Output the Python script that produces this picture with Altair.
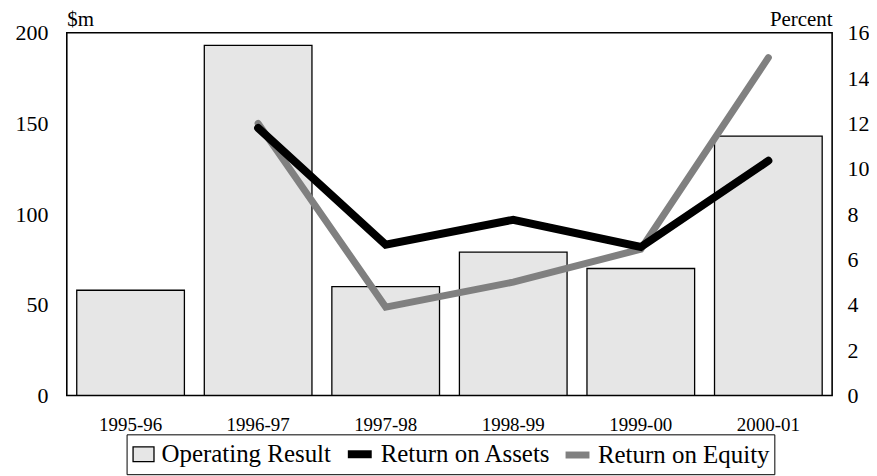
import altair as alt
import pandas as pd

years = ["1995-96", "1996-97", "1997-98", "1998-99", "1999-00", "2000-01"]
operating = [58, 193, 60, 79, 70, 143]
roa = [None, 11.8, 6.65, 7.75, 6.55, 10.35]
roe = [None, 12.0, 3.9, 5.0, 6.45, 14.9]

series_names = ["Operating Result", "Return on Assets", "Return on Equity"]
fill_colors = ["#e6e6e6", "transparent", "transparent"]
stroke_colors = ["#000000", "#000000", "#808080"]
stroke_widths = [1.3, 8, 7]
legend_shapes = ["M-0.875,-0.62H0.875V0.62H-0.875Z", "stroke", "stroke"]
left_ticks = [0, 50, 100, 150, 200]
right_ticks = [0, 2, 4, 6, 8, 10, 12, 14, 16]

FONT = "Liberation Serif"

bars_df = pd.DataFrame({"year": years, "value": operating, "series": series_names[0]})
lines_df = pd.DataFrame({
    "year": years * 2,
    "value": roa + roe,
    "series": [series_names[1]] * len(years) + [series_names[2]] * len(years),
}).dropna()


def legend():
    return alt.Legend(
        title=None,
        orient="none",
        legendX=60,
        legendY=403,
        direction="horizontal",
        labelFont=FONT,
        labelFontSize=25,
        labelColor="black",
        labelLimit=400,
        symbolSize=576,
        symbolOpacity=1,
        labelOffset=5,
        columnPadding=0,
        strokeColor="black",
        padding=4,
    )


fill_enc = alt.Fill("series:N", scale=alt.Scale(domain=series_names, range=fill_colors), legend=legend())
stroke_enc = alt.Stroke("series:N", scale=alt.Scale(domain=series_names, range=stroke_colors), legend=legend())
sw_enc = alt.StrokeWidth("series:N", scale=alt.Scale(type="ordinal", domain=series_names, range=stroke_widths), legend=legend())
shape_enc = alt.Shape("series:N", scale=alt.Scale(domain=series_names, range=legend_shapes), legend=legend())

x_enc = alt.X(
    "year:N",
    sort=years,
    scale=alt.Scale(paddingInner=0.156, paddingOuter=0.078),
    axis=alt.Axis(
        title=None, labelAngle=0, ticks=False, domain=False,
        labelFont=FONT, labelFontSize=19, labelColor="black", labelPadding=20,
    ),
)

bars = alt.Chart(bars_df).mark_bar().encode(
    x=x_enc,
    y=alt.Y(
        "value:Q",
        scale=alt.Scale(domain=[0, 200], nice=False),
        axis=alt.Axis(
            values=left_ticks, title="$m", titleAngle=0, titleAlign="left",
            titleX=0, titleY=-7, titleBaseline="alphabetic",
            titleFont=FONT, titleFontSize=21, titleFontWeight="normal", titleColor="black",
            labelFont=FONT, labelFontSize=22, labelColor="black", labelPadding=19,
            ticks=False, domain=False, grid=False,
        ),
    ),
    fill=fill_enc,
    stroke=stroke_enc,
    strokeWidth=sw_enc,
)

y_right_scale = alt.Scale(domain=[0, 16], nice=False)
y_right = alt.Y(
    "value:Q",
    scale=y_right_scale,
    axis=alt.Axis(
        orient="right", values=right_ticks, title="Percent", titleAngle=0,
        titleAlign="right", titleX=0, titleY=-7, titleBaseline="alphabetic",
        titleFont=FONT, titleFontSize=21, titleFontWeight="normal", titleColor="black",
        labelFont=FONT, labelFontSize=22, labelColor="black", labelPadding=15,
        ticks=False, domain=False, grid=False,
    ),
)

roe_line = alt.Chart(lines_df).transform_filter(
    alt.datum.series == series_names[2]
).mark_line(strokeCap="round").encode(
    x=x_enc, y=y_right, stroke=stroke_enc, strokeWidth=sw_enc
)

roa_line = alt.Chart(lines_df).transform_filter(
    alt.datum.series == series_names[1]
).mark_line(strokeCap="round").encode(
    x=x_enc, y=y_right, stroke=stroke_enc, strokeWidth=sw_enc
)

# empty point layer: only supplies the legend symbol shapes
shape_layer = alt.Chart(lines_df).transform_filter("false").mark_point(opacity=1).encode(
    x=x_enc, y=y_right, shape=shape_enc, fill=fill_enc, stroke=stroke_enc, strokeWidth=sw_enc
)

lines = alt.layer(roe_line, roa_line, shape_layer)

chart = alt.layer(bars, lines).resolve_scale(y="independent").properties(
    width=768,
    height=364,
    padding={"left": 7, "top": 0, "right": 0, "bottom": 0},
    background="white",
).configure_view(stroke="black", strokeWidth=1.6)

chart.save("out.html", embed_options={"renderer": "svg", "actions": False})
